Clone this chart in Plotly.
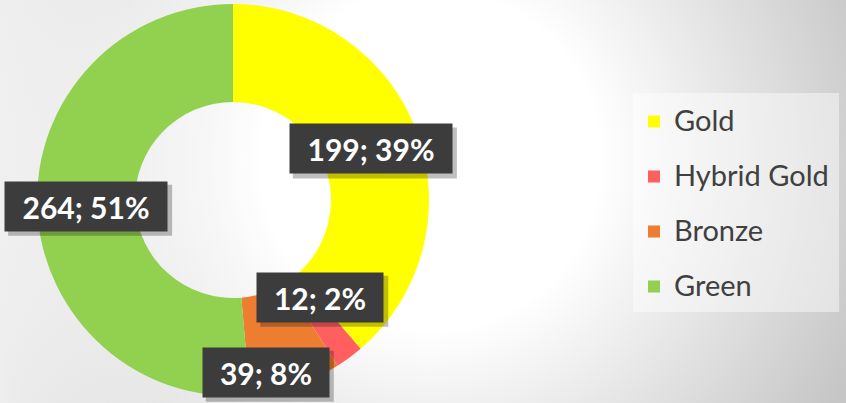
import math, base64
import plotly.graph_objects as go

labels = ["Gold", "Hybrid Gold", "Bronze", "Green"]
values = [199, 12, 39, 264]
colors = ["#FFFF00", "#FF5F5F", "#ED7D31", "#92D050"]
# label box nudges (px) relative to mid-ring position
label_dx = [0, 0, -14, 0]
label_dy = [0, -21, 33, 0]

W, H = 846, 403
cx, cy, R = 233, 200, 196
hole = 0.5

fig = go.Figure()
fig.add_trace(go.Pie(
    labels=[f'<span style="font-size:29px;baseline-shift:6px">{l}</span>' for l in labels],
    values=values,
    marker=dict(colors=colors, line=dict(width=0)),
    hole=hole, sort=False, direction="clockwise", rotation=0,
    textinfo="none", hoverinfo="label+value+percent",
    domain=dict(x=[(cx - R) / W, (cx + R) / W], y=[1 - (cy + R) / H, 1 - (cy - R) / H]),
    showlegend=True,
))

total = sum(values)
cum = 0
annots = []
shadows = []
for i, v in enumerate(values):
    mid = (cum + v / 2) / total
    cum += v
    ang = 2 * math.pi * mid
    rm = R * (1 + hole) / 2
    px = cx + rm * math.sin(ang) + label_dx[i]
    py = cy - rm * math.cos(ang) + label_dy[i]
    pct = round(100 * v / total)
    txt = f"<b>{v}; {pct}%</b>"
    w = 18 * len(f"{v}; {pct}%") + 8
    bw, bh = w + 12, 51
    shadows.append(dict(type="rect", xref="paper", yref="paper", layer="above",
                        x0=(px - bw / 2 + 4) / W, x1=(px + bw / 2 + 4) / W,
                        y0=1 - (py + bh / 2 + 4) / H, y1=1 - (py - bh / 2 + 4) / H,
                        fillcolor="rgba(0,0,0,0.25)", line=dict(width=0)))
    annots.append(dict(xref="paper", yref="paper", x=px / W, y=1 - py / H, showarrow=False,
                       width=w, height=39, borderpad=5, xanchor="center", yanchor="middle",
                       text=txt, font=dict(color="white", size=30, family="Lato"),
                       bgcolor="#3c3c3c"))

svg = f'''<svg xmlns="http://www.w3.org/2000/svg" width="{W}" height="{H}" viewBox="0 0 {W} {H}">
<defs>
<radialGradient id="g" gradientUnits="userSpaceOnUse" cx="430" cy="160" r="470">
<stop offset="0" stop-color="#ffffff"/><stop offset="0.36" stop-color="#ffffff"/>
<stop offset="1" stop-color="#c6c6c6"/></radialGradient>
<linearGradient id="l" gradientUnits="userSpaceOnUse" x1="0" y1="0" x2="320" y2="0">
<stop offset="0" stop-color="#ffffff" stop-opacity="0.7"/>
<stop offset="1" stop-color="#ffffff" stop-opacity="0"/></linearGradient>
</defs>
<rect width="{W}" height="{H}" fill="url(#g)"/>
<rect width="{W}" height="{H}" fill="url(#l)"/></svg>'''
src = "data:image/svg+xml;base64," + base64.b64encode(svg.encode()).decode()

legend_box = dict(type="rect", xref="paper", yref="paper", x0=633 / W, x1=839 / W,
                  y0=1 - 312 / H, y1=1 - 93 / H, fillcolor="rgba(255,255,255,0.45)",
                  line=dict(width=0), layer="below")

fig.update_layout(
    width=W, height=H, margin=dict(l=0, r=0, t=0, b=0),
    paper_bgcolor="#ffffff", plot_bgcolor="rgba(0,0,0,0)",
    images=[dict(source=src, xref="paper", yref="paper", x=0, y=1, sizex=1, sizey=1,
                 xanchor="left", yanchor="top", sizing="stretch", layer="below")],
    shapes=[legend_box] + shadows,
    legend=dict(x=634 / W, y=1 - 89 / H, xanchor="left", yanchor="top",
                font=dict(size=40, family="Lato", color="#404040"),
                bgcolor="rgba(0,0,0,0)", itemclick=False),
    annotations=annots,
)
fig.write_html("out.html", config={"displayModeBar": False},
               post_script="document.body.style.margin='0';document.body.style.overflow='hidden';")
